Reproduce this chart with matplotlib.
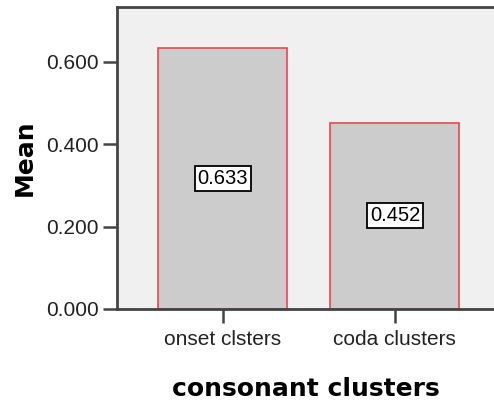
import matplotlib
matplotlib.use("Agg")
import matplotlib.pyplot as plt

categories = ["onset clsters", "coda clusters"]
means = [0.633, 0.452]
yticks = [0.0, 0.2, 0.4, 0.6]
ytick_labels = ["0.000", "0.200", "0.400", "0.600"]

plt.rcParams['font.family'] = ['Liberation Sans', 'DejaVu Sans']

fig = plt.figure(figsize=(4.94, 4.01), dpi=100)
ax = fig.add_axes([117/494, 1-309/401, 1-117/494, (309-7)/401])
ax.set_facecolor('#F0F0F0')

x = list(range(len(categories)))
ax.bar(x, means, width=0.75, color='#CCCCCC', edgecolor='#E8474F', linewidth=1.2, zorder=2)
for xi, m in zip(x, means):
    ax.text(xi, m/2, f"{m:.3f}", ha='center', va='center', fontsize=14.5, color='black',
            bbox=dict(boxstyle='square,pad=0.15', facecolor='white', edgecolor='black', linewidth=1.3), zorder=3)

ax.set_xlim(-0.616, 1.576)
ax.set_ylim(0, 0.7335)
ax.set_xticks(x)
ax.set_xticklabels(categories, fontsize=15, color='#222222')
ax.set_yticks(yticks)
ax.set_yticklabels(ytick_labels, fontsize=15, color='#222222')
ax.tick_params(axis='both', direction='out', length=10, width=1.8, color='#444444', pad=3)
ax.tick_params(axis='x', pad=5)
for s in ['left', 'bottom', 'top']:
    ax.spines[s].set_color('#444444')
    ax.spines[s].set_linewidth(2)
ax.spines['right'].set_visible(False)

ax.set_ylabel("Mean", fontsize=18, fontweight='bold', family=['DejaVu Sans'], labelpad=7)
ax.set_xlabel("consonant clusters", fontsize=18, fontweight='bold', family=['DejaVu Sans'], labelpad=20)

fig.savefig("out.png", dpi=100)
